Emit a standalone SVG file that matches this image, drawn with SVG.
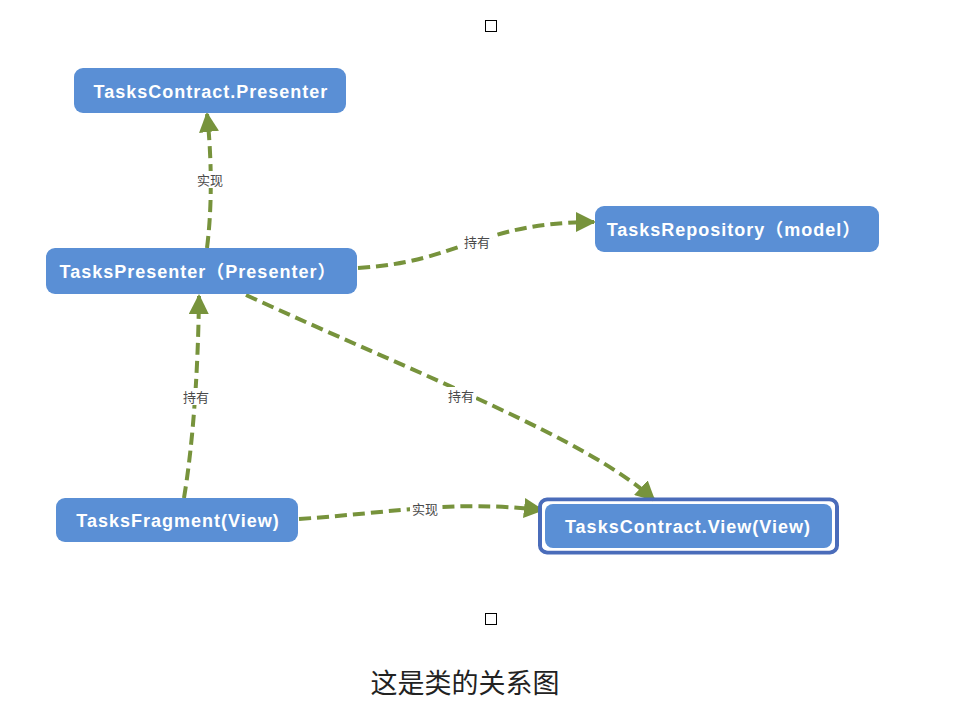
<svg xmlns="http://www.w3.org/2000/svg" width="954" height="716" viewBox="0 0 954 716">
<style>
.node{fill:#5a8fd5}
.nt{font-family:"Liberation Sans","Noto Sans CJK SC",sans-serif;font-weight:bold;font-size:18px;letter-spacing:1px;fill:#fff;text-anchor:middle}
.edge{fill:none;stroke:#77933c;stroke-width:4;stroke-dasharray:12 6}
.lbg{fill:#fff}
.lt{font-family:"Noto Sans CJK SC","Liberation Sans",sans-serif;font-size:13px;fill:#4a4a4a;text-anchor:middle}
.cap{font-family:"Noto Sans CJK SC",sans-serif;font-size:27px;fill:#222;text-anchor:middle}
</style>
<defs>
<marker id="arr" viewBox="0 0 10 10" refX="9" refY="5" markerWidth="5" markerHeight="5" orient="auto" markerUnits="strokeWidth">
<path d="M0,0 L10,5 L0,10 z" fill="#77933c"/>
</marker>
</defs>
<rect x="485.5" y="20.5" width="11" height="11" fill="#fff" stroke="#000" stroke-width="1"/>
<rect x="485.5" y="613.5" width="11" height="11" fill="#fff" stroke="#000" stroke-width="1"/>
<g id="connectors">
<path class="edge" d="M207,248 C213,200 211,150 207,114" marker-end="url(#arr)"/>
<path class="edge" d="M358,268 C460,262 480,222 594,222" marker-end="url(#arr)"/>
<path class="edge" d="M246,295 C420,375 590,440 654,500" marker-end="url(#arr)"/>
<path class="edge" d="M184,498 C192,450 198,380 199,296" marker-end="url(#arr)"/>
<path class="edge" d="M299,519 C400,512 450,500 542,510" marker-end="url(#arr)"/>
<rect class="lbg" x="195" y="171" width="30" height="17"/>
<text class="lt" x="210" y="185">实现</text>
<rect class="lbg" x="462" y="233" width="30" height="17"/>
<text class="lt" x="477" y="247">持有</text>
<rect class="lbg" x="446" y="387" width="30" height="17"/>
<text class="lt" x="461" y="401">持有</text>
<rect class="lbg" x="181" y="388" width="30" height="17"/>
<text class="lt" x="196" y="402">持有</text>
<rect class="lbg" x="410" y="500" width="30" height="17"/>
<text class="lt" x="425" y="514">实现</text>
</g>
<g id="n1">
<rect class="node" x="74" y="68" width="272" height="45" rx="9"/>
<text class="nt" x="211" y="98">TasksContract.Presenter</text>
</g>
<g id="n2">
<rect class="node" x="46" y="248" width="311" height="46" rx="9"/>
<text class="nt" x="198" y="278">TasksPresenter（Presenter）</text>
</g>
<g id="n3">
<rect class="node" x="595" y="206" width="284" height="46" rx="9"/>
<text class="nt" x="734" y="236">TasksRepository（model）</text>
</g>
<g id="n4">
<rect class="node" x="56" y="498" width="242" height="44" rx="9"/>
<text class="nt" x="178" y="527">TasksFragment(View)</text>
</g>
<g id="n5">
<rect x="540" y="499.5" width="297" height="53" rx="7" fill="none" stroke="#4a6cba" stroke-width="4"/>
<rect x="542" y="501.5" width="293" height="49" rx="6" fill="#fff"/>
<rect class="node" x="545" y="504" width="287" height="44" rx="8"/>
<text class="nt" x="688" y="533">TasksContract.View(View)</text>
</g>
<text class="cap" x="465" y="693">这是类的关系图</text>
</svg>
